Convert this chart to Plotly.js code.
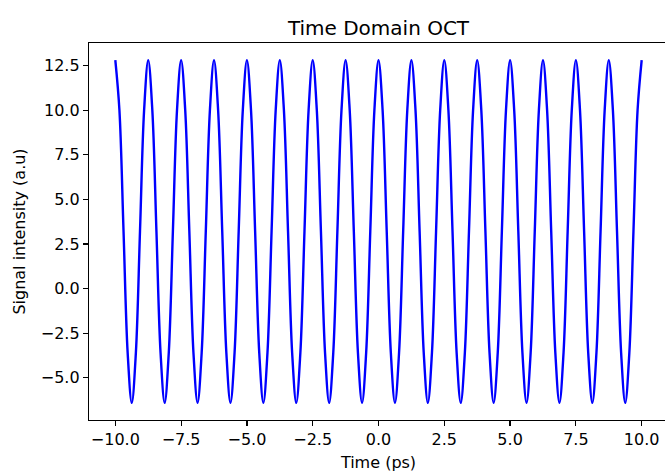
<!DOCTYPE html>
<html>
<head>
<meta charset="utf-8">
<script src="https://cdn.plot.ly/plotly-3.0.1.min.js"></script>
<style>
html,body{margin:0;padding:0;width:665px;height:473px;overflow:hidden;background:#fff;}
#chart{width:680px;height:473px;}
</style>
</head>
<body>
<div id="chart"></div>
<script>
// Sampling of the time axis (ps)
const timeStart = -10;
const timeStep = 0.15625;
// Signal intensity samples (a.u) (one row = one fringe period)
const intensity = [
  12.8, 9.99, 3.2, -3.59, -6.4, -3.59, 3.2, 9.99,
  12.8, 9.99, 3.2, -3.59, -6.4, -3.59, 3.2, 9.99,
  12.8, 9.99, 3.2, -3.59, -6.4, -3.59, 3.2, 9.99,
  12.8, 9.99, 3.2, -3.59, -6.4, -3.59, 3.2, 9.99,
  12.8, 9.99, 3.2, -3.59, -6.4, -3.59, 3.2, 9.99,
  12.8, 9.99, 3.2, -3.59, -6.4, -3.59, 3.2, 9.99,
  12.8, 9.99, 3.2, -3.59, -6.4, -3.59, 3.2, 9.99,
  12.8, 9.99, 3.2, -3.59, -6.4, -3.59, 3.2, 9.99,
  12.8, 9.99, 3.2, -3.59, -6.4, -3.59, 3.2, 9.99,
  12.8, 9.99, 3.2, -3.59, -6.4, -3.59, 3.2, 9.99,
  12.8, 9.99, 3.2, -3.59, -6.4, -3.59, 3.2, 9.99,
  12.8, 9.99, 3.2, -3.59, -6.4, -3.59, 3.2, 9.99,
  12.8, 9.99, 3.2, -3.59, -6.4, -3.59, 3.2, 9.99,
  12.8, 9.99, 3.2, -3.59, -6.4, -3.59, 3.2, 9.99,
  12.8, 9.99, 3.2, -3.59, -6.4, -3.59, 3.2, 9.99,
  12.8, 9.99, 3.2, -3.59, -6.4, -3.59, 3.2, 9.99,
  12.8
];
const xTicks = [-10, -7.5, -5, -2.5, 0, 2.5, 5, 7.5, 10];
const yTicks = [-5, -2.5, 0, 2.5, 5, 7.5, 10, 12.5];
const titleText = "Time Domain OCT";
const xLabel = "Time (ps)";
const yLabel = "Signal intensity (a.u)";

const font = "DejaVu Sans, sans-serif";
const trace = {
  type: "scatter",
  mode: "lines",
  x0: timeStart,
  dx: timeStep,
  y: intensity,
  line: {color: "#0000ff", width: 2.4, shape: "spline", smoothing: 1},
  hoverinfo: "skip"
};
const axisCommon = {
  showgrid: false,
  zeroline: false,
  showline: true,
  linecolor: "#000",
  linewidth: 1.2,
  mirror: true,
  ticks: "outside",
  ticklen: 5,
  tickwidth: 1.2,
  tickcolor: "#000",
  tickformat: ".1f",
  tickfont: {family: font, size: 16, color: "#000"}
};
const layout = {
  width: 680,
  height: 473,
  margin: {l: 89, r: 12, t: 43, b: 53},
  paper_bgcolor: "#fff",
  plot_bgcolor: "#fff",
  showlegend: false,
  title: {text: titleText, font: {family: font, size: 20, color: "#000"}, x: 0.5, xref: "paper", y: 1, yref: "paper", yanchor: "bottom", pad: {b: 8}},
  xaxis: Object.assign({}, axisCommon, {
    range: [-11, 11],
    tickmode: "array",
    tickvals: xTicks,
    title: {text: xLabel, font: {family: font, size: 16, color: "#000"}, standoff: 8}
  }),
  yaxis: Object.assign({}, axisCommon, {
    range: [-7.36, 13.76],
    tickmode: "array",
    tickvals: yTicks,
    title: {text: yLabel, font: {family: font, size: 16, color: "#000"}, standoff: 11}
  })
};
Plotly.newPlot("chart", [trace], layout, {staticPlot: true, displayModeBar: false});
</script>
</body>
</html>
